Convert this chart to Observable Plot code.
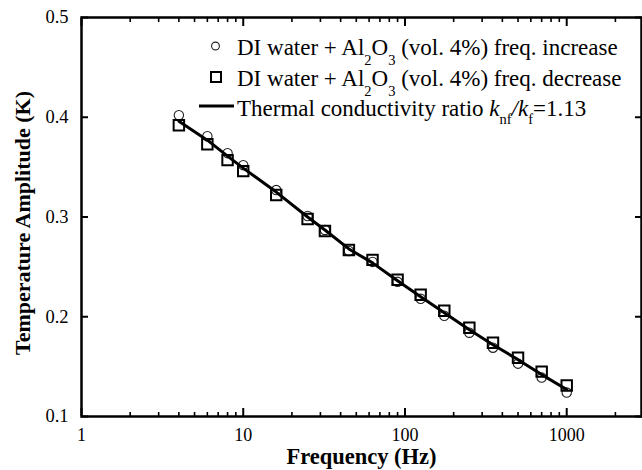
<!DOCTYPE html>
<html>
<head>
<meta charset="utf-8">
<script src="https://cdn.jsdelivr.net/npm/d3@7"></script>
<script src="https://cdn.jsdelivr.net/npm/@observablehq/plot@0.6"></script>
<style>
  html, body { margin: 0; padding: 0; background: #fff; }
  #chart { position: relative; width: 642px; height: 470px; }
</style>
</head>
<body>
<div id="chart"></div>
<script>
// Frequency (Hz)
const freq = [4, 6, 8, 10, 16, 25, 32, 45, 63, 90, 125, 175, 250, 350, 500, 700, 1000];
// Temperature amplitude (K), frequency increase (circles)
const ampIncrease = [0.402, 0.381, 0.364, 0.352, 0.327, 0.301, 0.287, 0.266, 0.255, 0.235, 0.218, 0.201, 0.184, 0.169, 0.153, 0.139, 0.124];
// Temperature amplitude (K), frequency decrease (squares)
const ampDecrease = [0.392, 0.373, 0.357, 0.346, 0.322, 0.298, 0.286, 0.267, 0.257, 0.237, 0.222, 0.206, 0.189, 0.174, 0.159, 0.145, 0.131];
// Model curve, thermal conductivity ratio 1.13
const ampModel = [0.396, 0.377, 0.361, 0.349, 0.325, 0.300, 0.287, 0.268, 0.254, 0.236, 0.220, 0.204, 0.187, 0.172, 0.157, 0.142, 0.127];

const xMajorTicks = [1, 10, 100, 1000];
const xMinorTicks = [2,3,4,5,6,7,8,9,20,30,40,50,60,70,80,90,200,300,400,500,600,700,800,900,2000];
const yTicks = [0.1, 0.2, 0.3, 0.4, 0.5];
const xTitle = "Frequency (Hz)";
const yTitle = "Temperature Amplitude (K)";

const SERIF = "'Liberation Serif', 'Times New Roman', serif";

const incData = freq.map((f, i) => ({f, a: ampIncrease[i]}));
const decData = freq.map((f, i) => ({f, a: ampDecrease[i]}));
const fitData = freq.map((f, i) => ({f, a: ampModel[i]}));

const svg = Plot.plot({
  width: 642,
  height: 470,
  marginLeft: 81,
  marginRight: 1,
  marginTop: 17,
  marginBottom: 54,
  style: {fontFamily: SERIF, fontSize: "18px", color: "#000", background: "#fff"},
  x: {type: "log", domain: [1, 2900]},
  y: {domain: [0.1, 0.5]},
  marks: [
    // tick labels
    Plot.axisX({anchor: "bottom", ticks: xMajorTicks, tickFormat: d => String(d), tickSize: 0, tickPadding: 12, fontSize: 18, label: null}),
    Plot.axisY({anchor: "left", ticks: yTicks, tickFormat: d => d.toFixed(1), tickSize: 0, tickPadding: 13, fontSize: 18.5, label: null}),
    // inward ticks
    Plot.axisX({anchor: "bottom", ticks: xMajorTicks, tickSize: -8, text: null, label: null, strokeWidth: 2}),
    Plot.axisX({anchor: "bottom", ticks: xMinorTicks, tickSize: -4, text: null, label: null, strokeWidth: 1.6}),
    Plot.axisX({anchor: "top", ticks: xMajorTicks, tickSize: -8, text: null, label: null, strokeWidth: 2}),
    Plot.axisX({anchor: "top", ticks: xMinorTicks, tickSize: -4, text: null, label: null, strokeWidth: 1.6}),
    Plot.axisY({anchor: "left", ticks: yTicks, tickSize: -7, text: null, label: null, strokeWidth: 2}),
    Plot.axisY({anchor: "right", ticks: yTicks, tickSize: -7, text: null, label: null, strokeWidth: 2}),
    // axis titles
    Plot.text([xTitle], {frameAnchor: "bottom", dy: 40, lineAnchor: "middle", textAnchor: "middle", text: d => d, fontWeight: "bold", fontSize: 22.5}),
    Plot.text([yTitle], {frameAnchor: "left", dx: -59, dy: 6, rotate: -90, textAnchor: "middle", lineAnchor: "middle", text: d => d, fontWeight: "bold", fontSize: 22}),
    // data
    Plot.dot(incData, {x: "f", y: "a", symbol: "circle", r: 4.7, stroke: "#222", strokeWidth: 1.1, fill: "none"}),
    Plot.dot(decData, {x: "f", y: "a", symbol: "square", r: 5.9, stroke: "#000", strokeWidth: 2, fill: "none"}),
    Plot.line(fitData, {x: "f", y: "a", stroke: "#000", strokeWidth: 3}),
    Plot.frame({stroke: "#000", strokeWidth: 2.5})
  ]
});

document.getElementById("chart").appendChild(svg);

// Legend (inside the plot area, top right)
const lg = d3.select(svg).append("g")
  .attr("text-anchor", "start")
  .style("font-family", SERIF)
  .style("font-size", "23px")
  .attr("fill", "#000");

const legX = 237;
const rows = [55, 86, 116];

lg.append("circle").attr("cx", 215.5).attr("cy", rows[0] - 9).attr("r", 3.9)
  .attr("fill", "none").attr("stroke", "#222").attr("stroke-width", 1.1);
lg.append("rect").attr("x", 211).attr("y", rows[1] - 14).attr("width", 10).attr("height", 10)
  .attr("fill", "none").attr("stroke", "#000").attr("stroke-width", 2);
lg.append("line").attr("x1", 199).attr("x2", 234).attr("y1", rows[2] - 10).attr("y2", rows[2] - 10)
  .attr("stroke", "#000").attr("stroke-width", 3);

function sub(t, s, d) {
  t.append("tspan").style("font-size", "14.5px").attr("dy", d).text(s);
}
function aluminaRow(y, word) {
  const t = lg.append("text").attr("x", legX).attr("y", y).attr("text-anchor", "start");
  t.append("tspan").text("DI water + Al");
  sub(t, "2", 10);
  t.append("tspan").attr("dy", -10).text("O");
  sub(t, "3", 10);
  t.append("tspan").attr("dy", -10).text(" (vol. 4%) freq. " + word);
}
aluminaRow(rows[0], "increase");
aluminaRow(rows[1], "decrease");

const t3 = lg.append("text").attr("x", legX).attr("y", rows[2]).attr("text-anchor", "start");
t3.append("tspan").text("Thermal conductivity ratio ");
t3.append("tspan").style("font-style", "italic").text("k");
sub(t3, "nf", 8);
t3.append("tspan").attr("dy", -8).style("font-style", "italic").text("/k");
sub(t3, "f", 8);
t3.append("tspan").attr("dy", -8).text("=1.13");
</script>
</body>
</html>
